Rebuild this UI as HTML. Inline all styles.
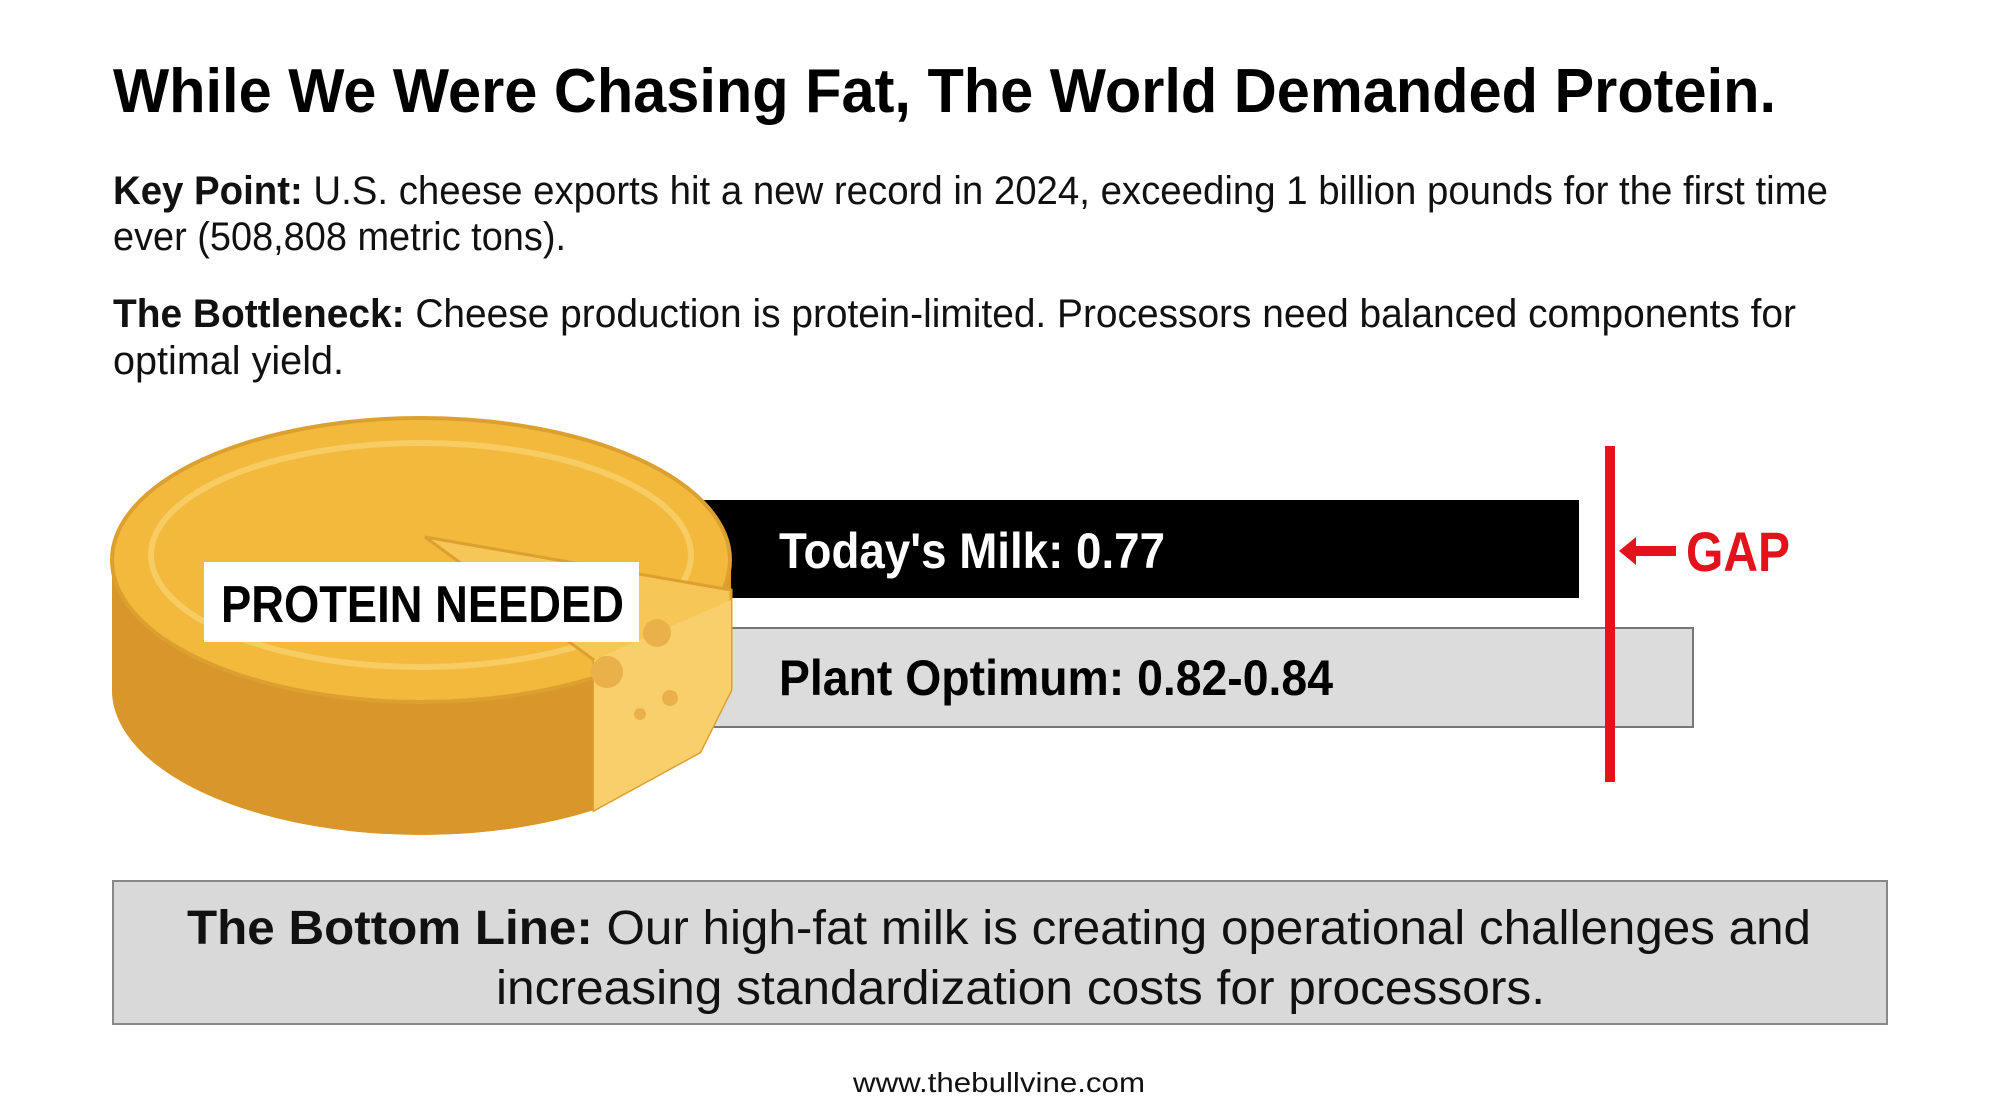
<!DOCTYPE html>
<html><head><meta charset="utf-8"><style>
html,body{margin:0;padding:0;background:#fff;}
svg{display:block;}
text{font-family:"Liberation Sans",sans-serif;}
</style></head><body>
<svg width="2000" height="1116" viewBox="0 0 2000 1116" xmlns="http://www.w3.org/2000/svg">
<rect width="2000" height="1116" fill="#fff"/>
<text x="113" y="112" font-size="62" font-weight="bold" fill="#000" textLength="1663" lengthAdjust="spacingAndGlyphs">While We Were Chasing Fat, The World Demanded Protein.</text>
<text x="113" y="204" font-size="40" fill="#111" textLength="1715" lengthAdjust="spacingAndGlyphs"><tspan font-weight="bold">Key Point:</tspan> U.S. cheese exports hit a new record in 2024, exceeding 1 billion pounds for the first time</text>
<text x="113" y="250" font-size="40" fill="#111" textLength="453" lengthAdjust="spacingAndGlyphs">ever (508,808 metric tons).</text>
<text x="113" y="327" font-size="40" fill="#111" textLength="1683" lengthAdjust="spacingAndGlyphs"><tspan font-weight="bold">The Bottleneck:</tspan> Cheese production is protein-limited. Processors need balanced components for</text>
<text x="113" y="374" font-size="40" fill="#111" textLength="231" lengthAdjust="spacingAndGlyphs">optimal yield.</text>

<!-- bars -->
<rect x="701" y="500" width="878" height="98" fill="#000"/>
<rect x="700" y="628" width="993" height="99" fill="#dcdcdc" stroke="#777" stroke-width="2"/>
<text x="779" y="568" font-size="50" font-weight="bold" fill="#fff" textLength="386" lengthAdjust="spacingAndGlyphs">Today's Milk: 0.77</text>
<text x="779" y="695" font-size="50" font-weight="bold" fill="#000" textLength="554" lengthAdjust="spacingAndGlyphs">Plant Optimum: 0.82-0.84</text>
<rect x="1605" y="446" width="10" height="336" fill="#e3121b"/>
<path d="M1619 551 L1636 537 L1636 546 L1676 546 L1676 556 L1636 556 L1636 565 Z" fill="#e3121b"/>
<text x="1686" y="571" font-size="56" font-weight="bold" fill="#e3121b" textLength="104" lengthAdjust="spacingAndGlyphs">GAP</text>

<!-- cheese -->
<path d="M112 558 L112 690 A309 145 0 0 0 594 810 L594 660 L700 700 L731 690 L731 558 Z" fill="#dc9a2a"/>
<path d="M112 560 A309 145 0 0 0 594 660 L594 810 A309 145 0 0 1 112 690 Z" fill="#d9962a"/>
<ellipse cx="421" cy="560" rx="309" ry="142" fill="#f2b93c" stroke="#dca030" stroke-width="4"/>
<ellipse cx="421" cy="555" rx="270" ry="112" fill="none" stroke="#f7cc62" stroke-width="6"/>
<path d="M425 537 L594 660 L594 810 L700 752 L731 690 L731 590 Z" fill="#f6c757" stroke="#dca030" stroke-width="3"/>
<path d="M594 660 L594 810 L700 752 L731 690 L731 600 Z" fill="#f8cf6a"/>
<circle cx="657" cy="633" r="14" fill="#eab04a"/>
<circle cx="607" cy="672" r="16" fill="#eab04a"/>
<circle cx="670" cy="698" r="8" fill="#eab04a"/>
<circle cx="640" cy="714" r="6" fill="#eab04a"/>
<rect x="204" y="562" width="435" height="80" fill="#fff"/>
<text x="221" y="622" font-size="52" font-weight="bold" fill="#000" textLength="403" lengthAdjust="spacingAndGlyphs">PROTEIN NEEDED</text>

<!-- bottom box -->
<rect x="113" y="881" width="1774" height="143" fill="#d9d9d9" stroke="#888" stroke-width="2"/>
<text x="187" y="944" font-size="48" fill="#111" textLength="1624" lengthAdjust="spacingAndGlyphs"><tspan font-weight="bold">The Bottom Line:</tspan> Our high-fat milk is creating operational challenges and</text>
<text x="496" y="1004" font-size="48" fill="#111" textLength="1049" lengthAdjust="spacingAndGlyphs">increasing standardization costs for processors.</text>
<text x="853" y="1092" font-size="28" fill="#111" textLength="292" lengthAdjust="spacingAndGlyphs">www.thebullvine.com</text>
</svg>
</body></html>
